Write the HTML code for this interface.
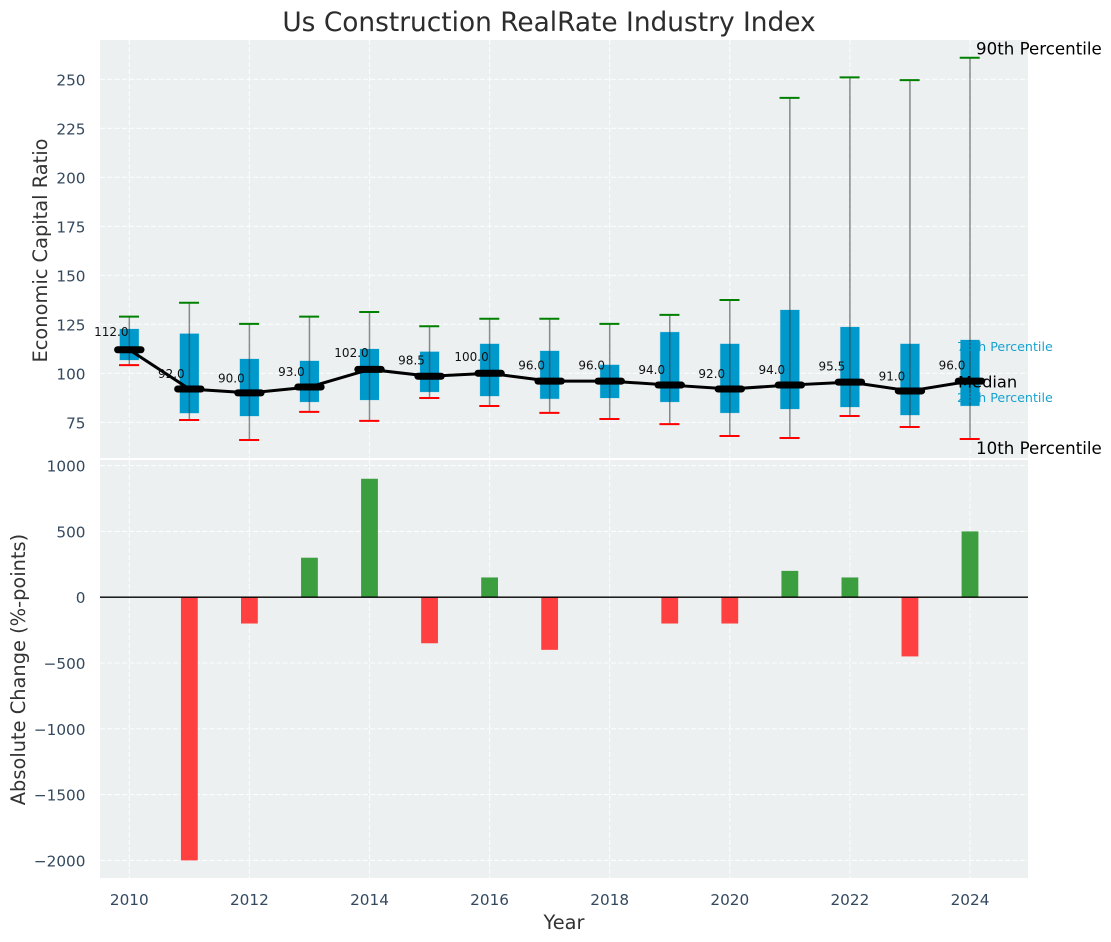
<!DOCTYPE html>
<html>
<head>
<meta charset="utf-8">
<title>Us Construction RealRate Industry Index</title>
<style>
html,body{margin:0;padding:0;background:#fff;width:1111px;height:942px;overflow:hidden}
svg{display:block}
text{font-family:"DejaVu Sans","Liberation Sans",sans-serif}
</style>
</head>
<body>
<svg id="chart" xmlns="http://www.w3.org/2000/svg" width="1111" height="942" viewBox="0 0 1111 942">
  <rect x="100" y="40" width="928" height="418" fill="#ecf0f1"/>
  <rect x="100" y="460" width="928" height="418" fill="#ecf0f1"/>
  <g id="grid"></g>
  <g id="bars"></g>
  <g id="boxes"></g>
  <g id="annots"></g>
  <g id="medians"></g>
  <g id="ticks"></g>
  <text x="549" y="31" text-anchor="middle" font-size="26.4" fill="#2c2c2c">Us Construction RealRate Industry Index</text>
  <text transform="translate(47,250.5) rotate(-90)" text-anchor="middle" font-size="19.4" fill="#333">Economic Capital Ratio</text>
  <text transform="translate(25,669.5) rotate(-90)" text-anchor="middle" font-size="19.4" fill="#333">Absolute Change (%-points)</text>
  <text x="564" y="929" text-anchor="middle" font-size="19.4" fill="#333">Year</text>
</svg>
<script>
const years = [2010,2011,2012,2013,2014,2015,2016,2017,2018,2019,2020,2021,2022,2023,2024];
const p10 = [104.2,76.2,66,80.3,75.7,87.4,83.3,79.8,76.7,74.1,68,67,78.2,72.6,66.5];
const p25 = [106.8,79.7,78.2,85.4,86.4,90.5,88.4,87,87.4,85.4,79.8,81.8,82.8,78.7,83.4];
const medianValues = [112,92,90,93,102,98.5,100,96,96,94,92,94,95.5,91,96];
const p75 = [122.6,120.2,107.3,106.3,112.4,111,115,111.4,104.3,121,115,132.3,123.6,115,117];
const p90 = [128.9,136,125.2,128.9,131.3,124,127.8,127.8,125.2,129.8,137.4,240.5,251,249.6,261];
const changeYears = [2011,2012,2013,2014,2015,2016,2017,2018,2019,2020,2021,2022,2023,2024];
const changeValues = [-2000,-200,300,900,-350,150,-400,0,-200,-200,200,150,-450,500];
const xTicks = [2010,2012,2014,2016,2018,2020,2022,2024];
const topTicks = [75,100,125,150,175,200,225,250];
const bottomTicks = [-2000,-1500,-1000,-500,0,500,1000];

const NS = 'http://www.w3.org/2000/svg';
function x(year){ return 129.3 + (year - 2010) * 60.05; }
function yTop(v){ return 422.3 - (v - 75) * 1.96; }
function yBottom(v){ return 597.2 - v * 0.1316; }
function make(parent, tag, attrs, content){
  const el = document.createElementNS(NS, tag);
  for (const k in attrs) el.setAttribute(k, attrs[k]);
  if (content !== undefined) el.textContent = content;
  parent.appendChild(el);
  return el;
}
const grid = document.getElementById('grid');
const bars = document.getElementById('bars');
const boxes = document.getElementById('boxes');
const annots = document.getElementById('annots');
const medians = document.getElementById('medians');
const ticks = document.getElementById('ticks');
const gridStyle = {stroke:'#fff', 'stroke-width':1.1, 'stroke-dasharray':'5.1 2.2', 'stroke-opacity':0.85};

xTicks.forEach(function(t){
  let a = make(grid, 'line', Object.assign({x1:x(t), x2:x(t), y1:40, y2:458}, gridStyle));
  
  
  let b = make(grid, 'line', Object.assign({x1:x(t), x2:x(t), y1:460, y2:878}, gridStyle));
  
  
  let l = make(ticks, 'text', {x:x(t), y:905, 'text-anchor':'middle', 'font-size':15.28, fill:'#34495e'}, String(t));
  
  
});
topTicks.forEach(function(t){
  let g = make(grid, 'line', Object.assign({x1:100, x2:1028, y1:yTop(t), y2:yTop(t)}, gridStyle));
  
  
  let l = make(ticks, 'text', {x:85.5, y:yTop(t)+6, 'text-anchor':'end', 'font-size':15.28, fill:'#34495e'}, String(t));
  
  
});
bottomTicks.forEach(function(t){
  let g = make(grid, 'line', Object.assign({x1:100, x2:1028, y1:yBottom(t), y2:yBottom(t)}, gridStyle));
  
  
  let l = make(ticks, 'text', {x:85.5, y:yBottom(t)+6, 'text-anchor':'end', 'font-size':15.28, fill:'#34495e'}, String(t).replace('-', '\u2212'));
  
  
});

changeYears.forEach(function(yr, i){
  const v = changeValues[i];
  const top = Math.min(yBottom(v), yBottom(0));
  const h = Math.abs(yBottom(v) - yBottom(0));
  let r = make(bars, 'rect', {x:x(yr)-8.4, y:top, width:16.8, height:h, fill:v >= 0 ? '#3b9e3f' : '#ff4040'});
  
  
});
let zero = make(bars, 'line', {x1:100, x2:1028, y1:yBottom(0), y2:yBottom(0), stroke:'#000', 'stroke-width':1.3});



years.forEach(function(yr, i){
  const cx = x(yr);
  let box = make(boxes, 'rect', {x:cx-9.5, y:yTop(p75[i]), width:19, height:yTop(p25[i])-yTop(p75[i]), fill:'#0099cc', stroke:'#0099cc', 'stroke-opacity':0.2, 'stroke-width':1});
  
  
  let w = make(boxes, 'line', {x1:cx, x2:cx, y1:yTop(p90[i]), y2:yTop(p10[i]), stroke:'#333', 'stroke-opacity':0.55, 'stroke-width':1.5});
  
  
  let hi = make(boxes, 'line', {x1:cx-10.3, x2:cx+9.7, y1:yTop(p90[i]), y2:yTop(p90[i]), stroke:'#008000', 'stroke-width':2});
  
  
  let lo = make(boxes, 'line', {x1:cx-10.3, x2:cx+9.7, y1:yTop(p10[i]), y2:yTop(p10[i]), stroke:'#ff0000', 'stroke-width':2});
  
  
});

const lastIdx = years.length - 1;
const lastX = x(years[lastIdx]);
let t90 = make(annots, 'text', {x:lastX+6, y:yTop(p90[lastIdx])-3, 'font-size':16.67, fill:'#000'}, '90th Percentile');


let t10 = make(annots, 'text', {x:lastX+6, y:yTop(p10[lastIdx])+15, 'font-size':16.67, fill:'#000'}, '10th Percentile');


let t75 = make(annots, 'text', {x:lastX-13, y:351, 'font-size':12.7, fill:'#0099cc', 'fill-opacity':0.9}, '75th Percentile');


let t25 = make(annots, 'text', {x:lastX-13, y:402, 'font-size':12.7, fill:'#0099cc', 'fill-opacity':0.9}, '25th Percentile');


let tm = make(annots, 'text', {x:lastX-12, y:387.5, 'font-size':16.3, fill:'#000'}, 'Median');



let pts = years.map(function(yr, i){ return x(yr) + ',' + yTop(medianValues[i]); }).join(' ');
let ml = make(medians, 'polyline', {points:pts, fill:'none', stroke:'#000', 'stroke-width':3, 'stroke-linejoin':'round'});


years.forEach(function(yr, i){
  const cx = x(yr);
  const cy = yTop(medianValues[i]);
  let m = make(medians, 'line', {x1:cx-11.7, x2:cx+11.7, y1:cy, y2:cy, stroke:'#000', 'stroke-width':7, 'stroke-linecap':'round'});
  
  
  let l = make(medians, 'text', {x:x(yr - 0.3), y:yTop(medianValues[i] * 1.08) + 3.6, 'text-anchor':'middle', 'font-size':12, fill:'#111'}, medianValues[i].toFixed(1));
  
  
});
</script>
</body>
</html>
